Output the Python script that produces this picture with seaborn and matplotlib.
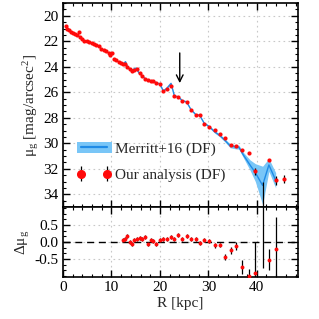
import matplotlib
matplotlib.use("Agg")
import matplotlib.pyplot as plt
import seaborn as sns
import pandas as pd
import numpy as np
from matplotlib.patches import Patch
from matplotlib.lines import Line2D
from matplotlib.ticker import MultipleLocator, AutoMinorLocator

# our surface brightness profile (DF)
ours_R = [0.6, 0.9, 1.3, 1.7, 2.1, 2.5, 2.9, 3.2, 3.5, 3.9, 4.4, 4.9, 5.4, 5.9, 6.4, 6.9,
          7.4, 7.9, 8.4, 8.9, 9.4, 9.8, 10.1, 10.5, 11.0, 11.5, 12.0, 12.3, 12.8, 13.3,
          13.8, 14.3, 14.7, 15.3, 15.9, 16.4, 17.0, 17.6, 18.1, 18.6, 19.3, 20.0, 20.7,
          21.4, 22.2, 22.9, 23.8, 24.5, 25.5, 26.4, 27.4, 28.2, 29.1, 30.2, 31.3, 32.4,
          33.5, 34.6, 35.8, 37.0, 38.4, 39.7, 41.2, 42.5, 43.9, 45.6]
ours_mu = [20.8, 21.0, 21.15, 21.3, 21.35, 21.45, 21.5, 21.3, 21.7, 21.85, 21.95, 22.0,
           22.05, 22.1, 22.2, 22.3, 22.4, 22.6, 22.7, 22.8, 22.95, 23.05, 22.95, 23.4,
           23.5, 23.6, 23.7, 23.8, 23.75, 24.0, 24.2, 24.3, 24.25, 24.15, 24.5, 24.7,
           24.95, 25.05, 25.1, 25.15, 25.25, 25.35, 25.9, 25.75, 25.5, 26.3, 26.35, 26.7,
           26.75, 27.4, 27.8, 27.8, 28.45, 28.75, 28.95, 29.3, 29.6, 30.1, 30.2, 30.5,
           30.8, 32.2, 35.5, 31.3, 32.9, 32.8]
ours_err = [0.03] * 60 + [0.05, 0.25, 2.45, 0.1, 0.35, 0.3]

# Merritt+16 (DF) profile and its uncertainty
mer_R = [12.4, 12.9, 13.4, 14.3, 15.1, 15.7, 16.2, 17.0, 18.0, 19.0, 20.0, 20.7, 21.4,
         22.3, 23.0, 23.8, 24.6, 25.5, 26.4, 27.4, 28.2, 29.1, 30.2, 31.3, 32.4, 33.5,
         34.5, 35.8, 36.3, 37.2, 38.6, 39.7, 41.2, 42.5, 43.9]
mer_mu = [23.8, 23.6, 24.1, 24.25, 24.1, 24.5, 24.65, 24.95, 25.1, 25.2, 25.35, 25.9,
          25.7, 25.3, 26.3, 26.35, 26.65, 26.75, 27.35, 27.75, 27.8, 28.4, 28.7, 29.1,
          29.4, 29.8, 30.2, 30.3, 30.3, 30.9, 31.7, 32.3, 33.3, 31.7, 32.9]
mer_err = [0.05] * 22 + [0.08, 0.1, 0.1, 0.12, 0.15, 0.15, 0.15, 0.2, 0.4, 0.7, 1.5,
                         0.5, 0.6]

# residuals
res_R = [12.3, 12.8, 13.3, 13.8, 14.3, 14.7, 15.3, 15.9, 16.4, 17.0, 17.6, 18.1, 18.6,
         19.3, 20.0, 20.7, 21.4, 22.2, 22.9, 23.8, 24.5, 25.5, 26.4, 27.4, 28.2, 29.1,
         30.2, 31.3, 32.4, 33.5, 34.6, 35.8, 37.0, 38.4, 39.7, 41.2, 42.5, 43.9]
res_d = [0.05, 0.1, 0.17, 0.0, -0.07, 0.05, 0.08, 0.13, 0.08, 0.15, -0.05, 0.05, 0.02,
         -0.05, 0.05, 0.08, 0.1, 0.15, 0.08, 0.2, 0.1, 0.17, 0.08, 0.08, -0.02, 0.05,
         0.04, -0.1, -0.09, -0.44, -0.25, -0.13, -0.73, -1.0, -0.9, 2.0, -0.52, -0.22]
res_err = [0.06] * 27 + [0.07, 0.07, 0.1, 0.1, 0.12, 0.2, 0.2, 0.9, 2.78, 0.3, 0.95]

sns.set_theme(style="ticks")
plt.rcParams["font.family"] = ["Liberation Serif", "DejaVu Serif"]
plt.rcParams["mathtext.fontset"] = "custom"
plt.rcParams["mathtext.rm"] = "Liberation Serif"
plt.rcParams["mathtext.it"] = "Liberation Serif:italic"
plt.rcParams["axes.unicode_minus"] = False
plt.rcParams["font.size"] = 11

mer = pd.DataFrame({"R": mer_R, "mu": mer_mu, "err": mer_err})

fig = plt.figure(figsize=(3.19, 3.19), dpi=100)
ax = fig.add_axes([0.1975, 0.351, 0.7365, 0.6396])
ax2 = fig.add_axes([0.1975, 0.1317, 0.7365, 0.2193], sharex=ax)

c_line = "#1f8be6"
c_band = "#79c6f7"
c_red = "#ff0a0a"

ax.fill_between(mer["R"], mer["mu"] - mer["err"], mer["mu"] + mer["err"],
                color=c_band, lw=0, zorder=2)
sns.lineplot(data=mer, x="R", y="mu", ax=ax, color=c_line, lw=1.0, zorder=3)
ax.errorbar(ours_R, ours_mu, yerr=ours_err, fmt="o", ms=3.0, mfc=c_red, mec=c_red,
            mew=0, ecolor="black", elinewidth=0.9, capsize=0, zorder=4)

ax.annotate("", xy=(24.1, 25.5), xytext=(24.1, 22.7),
            arrowprops=dict(arrowstyle="->", color="black", lw=1.0, mutation_scale=12))

ax.set_xlim(0, 48.5)
ax.set_ylim(35, 19)
ax.set_ylabel("μ$_{\\rm g}$ [mag/arcsec$^2$]", fontsize=11, labelpad=2)
ax.yaxis.set_major_locator(MultipleLocator(2))
ax.yaxis.set_minor_locator(AutoMinorLocator(4))
ax.tick_params(labelbottom=False)
ax.set_xlabel("")

h_mer = (Patch(facecolor=c_band, edgecolor="none"), Line2D([], [], color=c_line, lw=1.6))
eb = ax.errorbar([], [], yerr=[], fmt="o", ms=5.5, mfc=c_red, mec=c_red,
                 ecolor="black", elinewidth=0.9)
leg = ax.legend([h_mer, eb], ["Merritt+16 (DF)", "Our analysis (DF)"],
                loc="lower left", bbox_to_anchor=(0.0, 0.055), frameon=False,
                fontsize=11, handlelength=2.3, handletextpad=0.2, numpoints=2,
                labelspacing=0.8)

ax2.axhline(0, color="black", lw=1.0, ls=(0, (5, 3.5)), zorder=2)
ax2.errorbar(res_R, res_d, yerr=res_err, fmt="o", ms=2.8, mfc=c_red, mec=c_red,
             mew=0, ecolor="black", elinewidth=0.9, capsize=0, zorder=4)
ax2.set_ylim(-1.03, 1.03)
ax2.yaxis.set_minor_locator(AutoMinorLocator(3))
ax2.set_yticks([-0.5, 0.0, 0.5])
ax2.set_yticklabels(["-0.5", "0.0", "0.5"])
ax2.set_ylabel("Δμ$_{\\rm g}$", fontsize=11, labelpad=2)
ax2.set_xlabel("R [kpc]", fontsize=11, labelpad=2)
ax2.xaxis.set_major_locator(MultipleLocator(10))
ax2.xaxis.set_minor_locator(AutoMinorLocator(5))

for a in (ax, ax2):
    a.grid(True, which="major", color="#c8c8c8", ls=(0, (1.5, 3)), lw=0.8)
    a.tick_params(which="both", direction="in", top=True, right=True, colors="black",
                  labelsize=11, pad=3)
    a.tick_params(which="major", length=5, width=1.0)
    a.tick_params(which="minor", length=2.5, width=0.8)
    for s in a.spines.values():
        s.set_linewidth(1.2)
        s.set_color("black")
    a.set_facecolor("white")

fig.savefig("out.png", dpi=100)
